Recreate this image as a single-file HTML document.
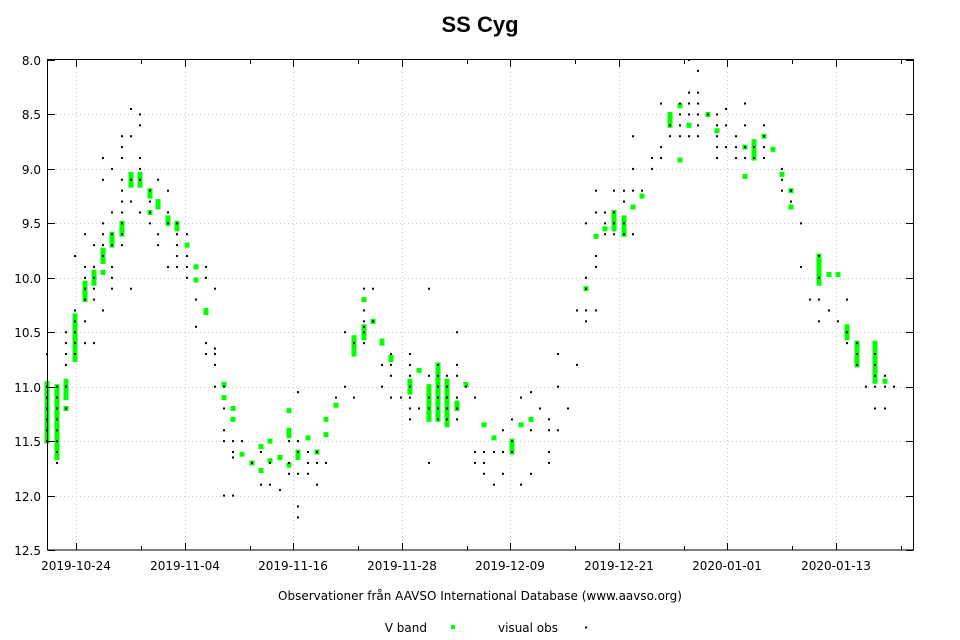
<!DOCTYPE html>
<html><head><meta charset="utf-8"><style>
html,body{margin:0;padding:0;background:#fff;width:960px;height:640px;overflow:hidden}
svg{display:block}
text{font-family:"DejaVu Sans","Liberation Sans",sans-serif;font-size:12px;fill:#000}
</style></head><body>
<svg id="s" width="960" height="640" xmlns="http://www.w3.org/2000/svg">
<text x="480" y="32" text-anchor="middle" style="font-size:22px;font-weight:bold;font-family:'Liberation Sans',sans-serif">SS Cyg</text>
<g id="grid"></g>
<g id="green"></g>
<g id="black"></g>
<rect x="47.5" y="59.5" width="866" height="490.5" fill="none" stroke="#000" stroke-width="1"/>
<g id="ticks"></g>
<text x="480" y="600" text-anchor="middle">Observationer från AAVSO International Database (www.aavso.org)</text>
<text x="427" y="632" text-anchor="end">V band</text>
<rect x="451" y="625" width="4" height="4" fill="#00ff00"/>
<text x="498" y="632">visual obs</text>
<rect x="585" y="626.5" width="2" height="2" fill="#000"/>
</svg>
<script>
const NS="http://www.w3.org/2000/svg";
function el(p,t,a){const e=document.createElementNS(NS,t);for(const k in a)e.setAttribute(k,a[k]);p.appendChild(e);return e;}
const Y=m=>60+(m-8)*108.9;
const grid=document.getElementById('grid'),ticks=document.getElementById('ticks');
const majors=[76,185,293,402,510,619,727,836];
const labels=["2019-10-24","2019-11-04","2019-11-16","2019-11-28","2019-12-09","2019-12-21","2020-01-01","2020-01-13"];
majors.forEach((x,i)=>{
 el(grid,'line',{x1:x+.5,x2:x+.5,y1:60,y2:550,stroke:'#c8c8c8','stroke-dasharray':'1,3'});
 el(ticks,'line',{x1:x+.5,x2:x+.5,y1:550,y2:543,stroke:'#000'});
 el(ticks,'line',{x1:x+.5,x2:x+.5,y1:60,y2:67,stroke:'#000'});
 const t=el(ticks,'text',{x:x,y:570,'text-anchor':'middle'});t.textContent=labels[i];
 const mx=x+65.5; if(mx<913){
 el(ticks,'line',{x1:mx,x2:mx,y1:550,y2:546,stroke:'#000'});
 el(ticks,'line',{x1:mx,x2:mx,y1:60,y2:64,stroke:'#000'});}
});
for(let m=8;m<=12.5001;m+=0.5){
 const y=Math.round(Y(m))+.5;
 if(m>8&&m<12.5)el(grid,'line',{x1:48,x2:913,y1:y,y2:y,stroke:'#c8c8c8','stroke-dasharray':'1,3'});
 el(ticks,'line',{x1:48,x2:55,y1:y,y2:y,stroke:'#000'});
 el(ticks,'line',{x1:906,x2:913,y1:y,y2:y,stroke:'#000'});
 const t=el(ticks,'text',{x:41,y:y+4.5,'text-anchor':'end'});t.textContent=m.toFixed(1);
}
const B={47:[10.7,11.0,11.1,11.2,11.3,11.4,11.5],57:[11.0,11.1,11.2,11.3,11.4,11.5,11.6,11.7],66:[10.5,10.6,10.7,10.8,11.0,11.2],75:[9.8,10.3,10.4,10.5,10.6,10.7],85:[9.6,9.9,10.0,10.1,10.2,10.4,10.6],94:[9.7,9.9,10.0,10.1,10.2,10.6],103:[8.9,9.1,9.5,9.6,9.7,9.8,10.3],112:[9.0,9.4,9.6,9.7,9.9,10.0,10.1],122:[8.7,8.8,8.9,9.1,9.2,9.3,9.4,9.5,9.6,9.7],131:[8.45,8.7,9.1,9.3,10.1],140:[8.5,8.6,8.9,9.0,9.1,9.4],150:[9.2,9.3,9.4,9.5],158:[9.1,9.6,9.7],168:[9.2,9.4,9.5,9.9],177:[9.5,9.6,9.7,9.8,9.9],187:[9.6,9.8,9.9,10.0],196:[10.2,10.45],206:[9.9,10.0,10.6,10.7],215:[10.1,10.65,10.7,10.8,11.0],224:[11.0,11.2,11.4,11.5,12.0],233:[11.5,11.6,11.65,12.0],242:[11.5],252:[11.7],261:[11.6,11.9],270:[11.7,11.9],280:[11.95],289:[11.5,11.7,11.8],298:[11.05,11.5,11.6,11.8,12.1,12.2],308:[11.6,11.7,11.8],317:[11.6,11.7,11.9],326:[11.7],336:[11.1],345:[10.5,11.0],354:[10.6,11.1],364:[10.1,10.3,10.4,10.45,10.5,10.6],373:[10.1,10.4],382:[10.8,11.0],391:[10.7,10.8,10.9,11.1],401:[11.1],410:[10.7,10.8,10.9,11.0,11.1,11.2,11.3],419:[11.2],429:[10.1,10.9,11.1,11.2,11.7],438:[10.8,10.9,11.0,11.1,11.2,11.3],447:[10.9,11.0,11.1,11.2,11.3],457:[10.5,10.8,10.9,11.1,11.2,11.3],466:[11.0],475:[11.1,11.6,11.7],484:[11.6,11.7,11.8],494:[11.6,11.9],503:[11.4,11.6,11.8],512:[11.3,11.5,11.6],521:[11.1,11.9],531:[11.05,11.4,11.8],540:[11.2],549:[11.3,11.4,11.6,11.7],558:[10.7,11.0,11.4],568:[11.2],577:[10.3,10.8],586:[9.5,10.0,10.1,10.3,10.4],596:[9.2,9.4,9.8,9.9,10.3],605:[9.4,9.5,9.6],614:[9.2,9.4,9.5,9.6],624:[9.2,9.3,9.5,9.6],633:[8.7,9.0,9.2,9.6],642:[9.2],652:[8.9,9.0],661:[8.4,8.8,8.9],670:[8.6,8.7],680:[8.4,8.5,8.6,8.7],689:[8.0,8.3,8.4,8.5,8.7],698:[8.1,8.3,8.4,8.5,8.6,8.7],708:[8.5],717:[8.5,8.6,8.7,8.8,8.9],726:[8.45,8.6,8.8],736:[8.7,8.8,8.9],745:[8.4,8.6,8.8,8.9],754:[8.8,8.9],764:[8.6,8.7,8.8,8.9],782:[9.0,9.1,9.2],791:[9.2,9.3],801:[9.5,9.9],810:[10.2],819:[9.8,10.0,10.2,10.4],829:[10.3],838:[10.4],847:[10.2,10.5,10.6],857:[10.6,10.7,10.8],866:[11.0],875:[10.7,10.8,10.9,11.0,11.2],885:[10.9,11.0,11.2],894:[11.0]};
const G=[[47,10.97,11.5],[57,11.0,11.65],[66,10.95,11.1],[66,11.2,11.2],[75,10.35,10.75],[85,10.05,10.2],[94,9.95,10.05],[103,9.75,9.85],[103,9.95,9.95],[112,9.6,9.7],[122,9.5,9.6],[131,9.05,9.15],[140,9.05,9.15],[150,9.2,9.25],[150,9.4,9.4],[158,9.3,9.35],[168,9.45,9.5],[177,9.5,9.55],[187,9.7,9.7],[196,9.9,9.9],[196,10.02,10.02],[206,10.3,10.32],[224,10.98,10.98],[224,11.1,11.1],[233,11.2,11.2],[233,11.3,11.3],[242,11.62,11.62],[252,11.7,11.7],[261,11.55,11.55],[261,11.77,11.77],[270,11.5,11.5],[270,11.68,11.68],[280,11.65,11.65],[289,11.22,11.22],[289,11.4,11.45],[289,11.72,11.72],[298,11.6,11.65],[308,11.47,11.47],[317,11.6,11.6],[326,11.3,11.3],[326,11.44,11.44],[336,11.17,11.17],[354,10.55,10.7],[364,10.2,10.2],[364,10.45,10.55],[373,10.4,10.4],[382,10.58,10.6],[391,10.73,10.75],[410,10.95,11.05],[419,10.85,10.85],[429,11.0,11.3],[438,10.8,11.3],[447,10.95,11.35],[457,11.15,11.2],[466,10.98,10.98],[484,11.35,11.35],[494,11.47,11.47],[512,11.5,11.6],[521,11.35,11.35],[531,11.3,11.3],[586,10.1,10.1],[596,9.62,9.62],[605,9.55,9.55],[614,9.4,9.55],[624,9.45,9.6],[633,9.35,9.35],[642,9.25,9.25],[670,8.5,8.6],[680,8.42,8.42],[680,8.92,8.92],[689,8.6,8.6],[708,8.5,8.5],[717,8.65,8.65],[745,8.8,8.8],[745,9.07,9.07],[754,8.75,8.9],[764,8.7,8.7],[773,8.82,8.82],[782,9.05,9.05],[791,9.2,9.2],[791,9.35,9.35],[819,9.8,10.05],[829,9.97,9.97],[838,9.97,9.97],[847,10.45,10.55],[857,10.6,10.8],[875,10.6,10.95],[885,10.95,10.95]];
const g=document.getElementById('green');
G.forEach(([x,a,b])=>{const y1=Y(a),y2=Y(b);el(g,'rect',{x:x-2.5,y:y1-2.5,width:5,height:y2-y1+5,fill:'#00ff00'});});
const k=document.getElementById('black');
for(const x in B)B[x].forEach(m=>el(k,'rect',{x:+x-1,y:Y(m)-1,width:2,height:2,fill:'#000'}));
</script>
</body></html>
